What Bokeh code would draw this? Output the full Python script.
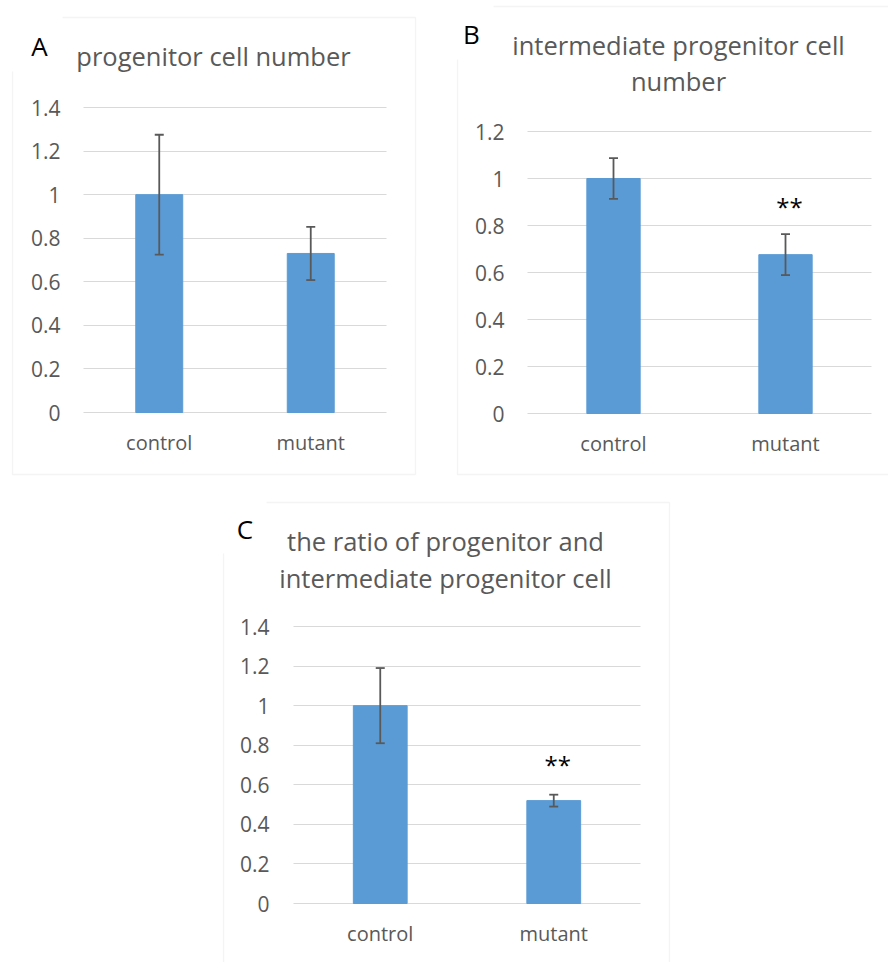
from bokeh.plotting import figure
from bokeh.models import (Range1d, FixedTicker, Whisker, TeeHead,
                          ColumnDataSource, Label, BoxAnnotation, Spacer)
from bokeh.layouts import row, column
from bokeh.embed import file_html
from bokeh.resources import INLINE

# ---------------- data ----------------
categories = ["control", "mutant"]

a_letter = "A"
a_title = ["progenitor cell number"]
a_values = [1.0, 0.73]
a_errors = [0.275, 0.122]
a_ticks = [0, 0.2, 0.4, 0.6, 0.8, 1, 1.2, 1.4]
a_tick_labels = ["0", "0.2", "0.4", "0.6", "0.8", "1", "1.2", "1.4"]
a_marks = ["", ""]

b_letter = "B"
b_title = ["intermediate progenitor cell", "number"]
b_values = [1.0, 0.676]
b_errors = [0.087, 0.087]
b_ticks = [0, 0.2, 0.4, 0.6, 0.8, 1, 1.2]
b_tick_labels = ["0", "0.2", "0.4", "0.6", "0.8", "1", "1.2"]
b_marks = ["", "**"]

c_letter = "C"
c_title = ["the ratio of progenitor and", "intermediate progenitor cell"]
c_values = [1.0, 0.52]
c_errors = [0.19, 0.03]
c_ticks = [0, 0.2, 0.4, 0.6, 0.8, 1, 1.2, 1.4]
c_tick_labels = ["0", "0.2", "0.4", "0.6", "0.8", "1", "1.2", "1.4"]
c_marks = ["", "**"]

BAR = "#5B9BD5"
GRAY = "#595959"
GRID = "#d9d9d9"
FONT = "Open Sans"


def panel(letter, title_lines, values, errors, ticks, tick_labels, marks, g):
    W, H = g["size"]
    px0, px1, py_top, py_bot = g["plot"]   # canvas pixels of x=0, x=n, y=ymax, y=0
    ymax = ticks[-1]
    n = len(categories)
    sx = (px1 - px0) / n
    sy = (py_bot - py_top) / ymax

    def dx(cx):
        return (cx - px0) / sx

    def dy(cy):
        return (py_bot - cy) / sy

    p = figure(width=W, height=H, title=None,
               x_range=Range1d(dx(0), dx(W)), y_range=Range1d(dy(H), dy(0)),
               output_backend="svg", toolbar_location=None,
               min_border_left=0, min_border_right=0,
               min_border_top=0, min_border_bottom=0)
    p.outline_line_color = None
    p.background_fill_color = "white"
    p.border_fill_color = "white"

    # chart-area border and the white box behind the panel letter
    bl, br, bt, bb = g["border"]
    p.add_layout(BoxAnnotation(left=dx(bl), right=dx(br), top=dy(bt), bottom=dy(bb),
                               fill_alpha=0, line_color=GRID, line_width=1.3))
    ml, mr, mt, mb = g["mask"]
    p.add_layout(BoxAnnotation(left=dx(ml), right=dx(mr), top=dy(mt), bottom=dy(mb),
                               fill_color="white", fill_alpha=1, line_color=None))

    xs = [i + 0.5 for i in range(n)]
    src = ColumnDataSource(dict(
        x=xs, top=values,
        upper=[v + e for v, e in zip(values, errors)],
        lower=[v - e for v, e in zip(values, errors)],
    ))
    p.vbar(x="x", top="top", width=0.31, source=src, fill_color=BAR, line_color=BAR)
    p.add_layout(Whisker(source=src, base="x", upper="upper", lower="lower",
                         line_color=GRAY, line_width=1.8, level="overlay",
                         upper_head=TeeHead(size=9, line_color=GRAY, line_width=1.8),
                         lower_head=TeeHead(size=9, line_color=GRAY, line_width=1.8)))

    # significance marks
    for i, m in enumerate(marks):
        if m:
            p.add_layout(Label(x=xs[i] + 4 / sx, y=values[i] + errors[i] + g["mark_gap"] / sy,
                               text=m, text_align="center", text_baseline="middle",
                               text_font=FONT, text_font_size="24px", text_color="black"))

    # y axis
    p.yaxis.fixed_location = 0
    p.yaxis.ticker = FixedTicker(ticks=ticks)
    p.ygrid.ticker = FixedTicker(ticks=ticks)
    p.yaxis.major_label_overrides = {t: s for t, s in zip(ticks, tick_labels)}
    p.yaxis.axis_line_color = None
    p.yaxis.major_tick_line_color = None
    p.yaxis.minor_tick_line_color = None
    p.yaxis.major_tick_out = 0
    p.yaxis.major_tick_in = 0
    p.yaxis.major_label_standoff = g["ystand"]
    p.yaxis.major_label_text_font = FONT
    p.yaxis.major_label_text_font_size = "21px"
    p.yaxis.major_label_text_color = GRAY

    # x axis (categories)
    p.xaxis.fixed_location = 0
    p.xaxis.ticker = FixedTicker(ticks=xs)
    p.xaxis.major_label_overrides = {x: c for x, c in zip(xs, categories)}
    p.xaxis.axis_line_color = None
    p.xaxis.major_tick_line_color = None
    p.xaxis.minor_tick_line_color = None
    p.xaxis.major_tick_out = 0
    p.xaxis.major_tick_in = 0
    p.xaxis.major_label_standoff = 16
    p.xaxis.major_label_text_font = FONT
    p.xaxis.major_label_text_font_size = "20px"
    p.xaxis.major_label_text_color = GRAY

    p.xgrid.grid_line_color = None
    p.ygrid.grid_line_color = GRID
    p.ygrid.grid_line_width = 1.2
    p.ygrid.cross_bounds = (0, n)

    # letter and title
    lx, ly = g["letter"]
    p.add_layout(Label(x=dx(lx), y=dy(ly), text=letter, text_align="center",
                       text_baseline="alphabetic", text_font=FONT,
                       text_font_size="26px", text_color="black"))
    tx = g["title_x"]
    for line, ty in zip(title_lines, g["title_y"]):
        p.add_layout(Label(x=dx(tx), y=dy(ty), text=line, text_align="center",
                           text_baseline="alphabetic", text_font=FONT,
                           text_font_size="25.5px", text_color=GRAY))
    return p


geom_a = dict(size=(444, 490), plot=(83, 386, 107, 412),
              border=(12, 415, 17, 474), mask=(-5, 62, -5, 71),
              letter=(39, 45), title_x=213, title_y=[55],
              ystand=23, mark_gap=28)
geom_b = dict(size=(444, 490), plot=(83, 427, 131, 413),
              border=(13, 450, 6, 474), mask=(-5, 49, -5, 59),
              letter=(27, 33), title_x=234, title_y=[44, 80],
              ystand=23, mark_gap=28)
geom_c = dict(size=(460, 472), plot=(73, 420, 136, 413),
              border=(3, 449, 12, 490), mask=(-5, 46, -5, 63),
              letter=(24.5, 38), title_x=225, title_y=[50, 87],
              ystand=24, mark_gap=30)

pa = panel(a_letter, a_title, a_values, a_errors, a_ticks, a_tick_labels, a_marks, geom_a)
pb = panel(b_letter, b_title, b_values, b_errors, b_ticks, b_tick_labels, b_marks, geom_b)
pc = panel(c_letter, c_title, c_values, c_errors, c_ticks, c_tick_labels, c_marks, geom_c)

layout = column(row(pa, pb), row(Spacer(width=220, height=472), pc))

open("out.html", "w").write(file_html(layout, INLINE))
